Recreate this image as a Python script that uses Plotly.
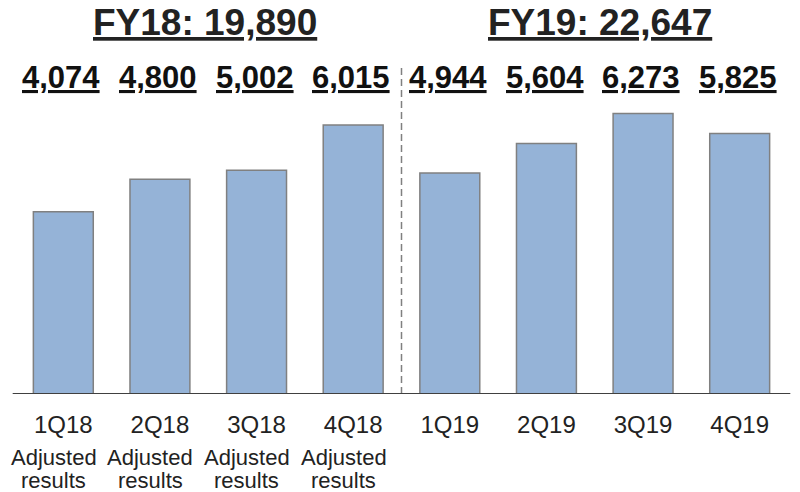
import plotly.graph_objects as go

quarters = ["1Q18", "2Q18", "3Q18", "4Q18", "1Q19", "2Q19", "3Q19", "4Q19"]
values = [4074, 4800, 5002, 6015, 4944, 5604, 6273, 5825]
value_labels = ["4,074", "4,800", "5,002", "6,015", "4,944", "5,604", "6,273", "5,825"]
notes = ["Adjusted", "Adjusted", "Adjusted", "Adjusted", "", "", "", ""]
notes2 = ["results", "results", "results", "results", "", "", "", ""]
fy_titles = ["FY18: 19,890", "FY19: 22,647"]
fy_pos = [1.47, 5.55]

FONT = "Liberation Sans, Arial, sans-serif"
xs = list(range(len(quarters)))

fig = go.Figure()
fig.add_trace(go.Bar(
    x=xs, y=values,
    marker=dict(color="#95B3D7", line=dict(color="#808080", width=1.5)),
    hoverinfo="skip",
))

H_PLOT = 334.0
def py(pix):
    return (394 - pix) / H_PLOT

annotations = []
for x, lab in zip(xs, value_labels):
    annotations.append(dict(x=x - 0.02, y=py(77), xref="x", yref="paper", text="<b>" + lab + "</b>",
                            showarrow=False, xanchor="center", yanchor="middle",
                            font=dict(family=FONT, size=31, color="#111111", lineposition="under")))
for x, t in zip(fy_pos, fy_titles):
    annotations.append(dict(x=x, y=py(22), xref="x", yref="paper", text="<b>" + t + "</b>",
                            showarrow=False, xanchor="center", yanchor="middle",
                            font=dict(family=FONT, size=37, color="#222222", lineposition="under")))
for x, n1, n2 in zip(xs, notes, notes2):
    if n1:
        annotations.append(dict(x=x - 0.1, y=py(457), xref="x", yref="paper", text=n1,
                                showarrow=False, xanchor="center", yanchor="middle",
                                font=dict(family=FONT, size=22, color="#222222")))
        annotations.append(dict(x=x - 0.1, y=py(480), xref="x", yref="paper", text=n2,
                                showarrow=False, xanchor="center", yanchor="middle",
                                font=dict(family=FONT, size=22, color="#222222")))

shapes = [
    dict(type="line", xref="x", yref="paper", x0=3.5, x1=3.5, y0=0, y1=py(68),
         line=dict(color="#808080", width=1.5, dash="7px,4px")),
    dict(type="line", xref="paper", yref="y", x0=-0.003, x1=1.003, y0=0, y1=0,
         line=dict(color="#404040", width=2)),
]

fig.update_layout(
    width=800, height=492,
    margin=dict(l=15, r=12, t=60, b=98),
    paper_bgcolor="white", plot_bgcolor="white",
    showlegend=False,
    bargap=0.38,
    xaxis=dict(range=[-0.5, 7.5], tickvals=xs, ticktext=quarters, showgrid=False,
               zeroline=False, showline=False, ticks="", ticklabelstandoff=14,
               tickfont=dict(family=FONT, size=24, color="#222222")),
    yaxis=dict(range=[0, H_PLOT / 0.04472], showgrid=False, zeroline=False,
               showticklabels=False, showline=False),
    annotations=annotations,
    shapes=shapes,
)

fig.write_html("out.html", config={"displayModeBar": False},
               post_script="document.body.style.margin='0';document.body.style.overflow='hidden';")
